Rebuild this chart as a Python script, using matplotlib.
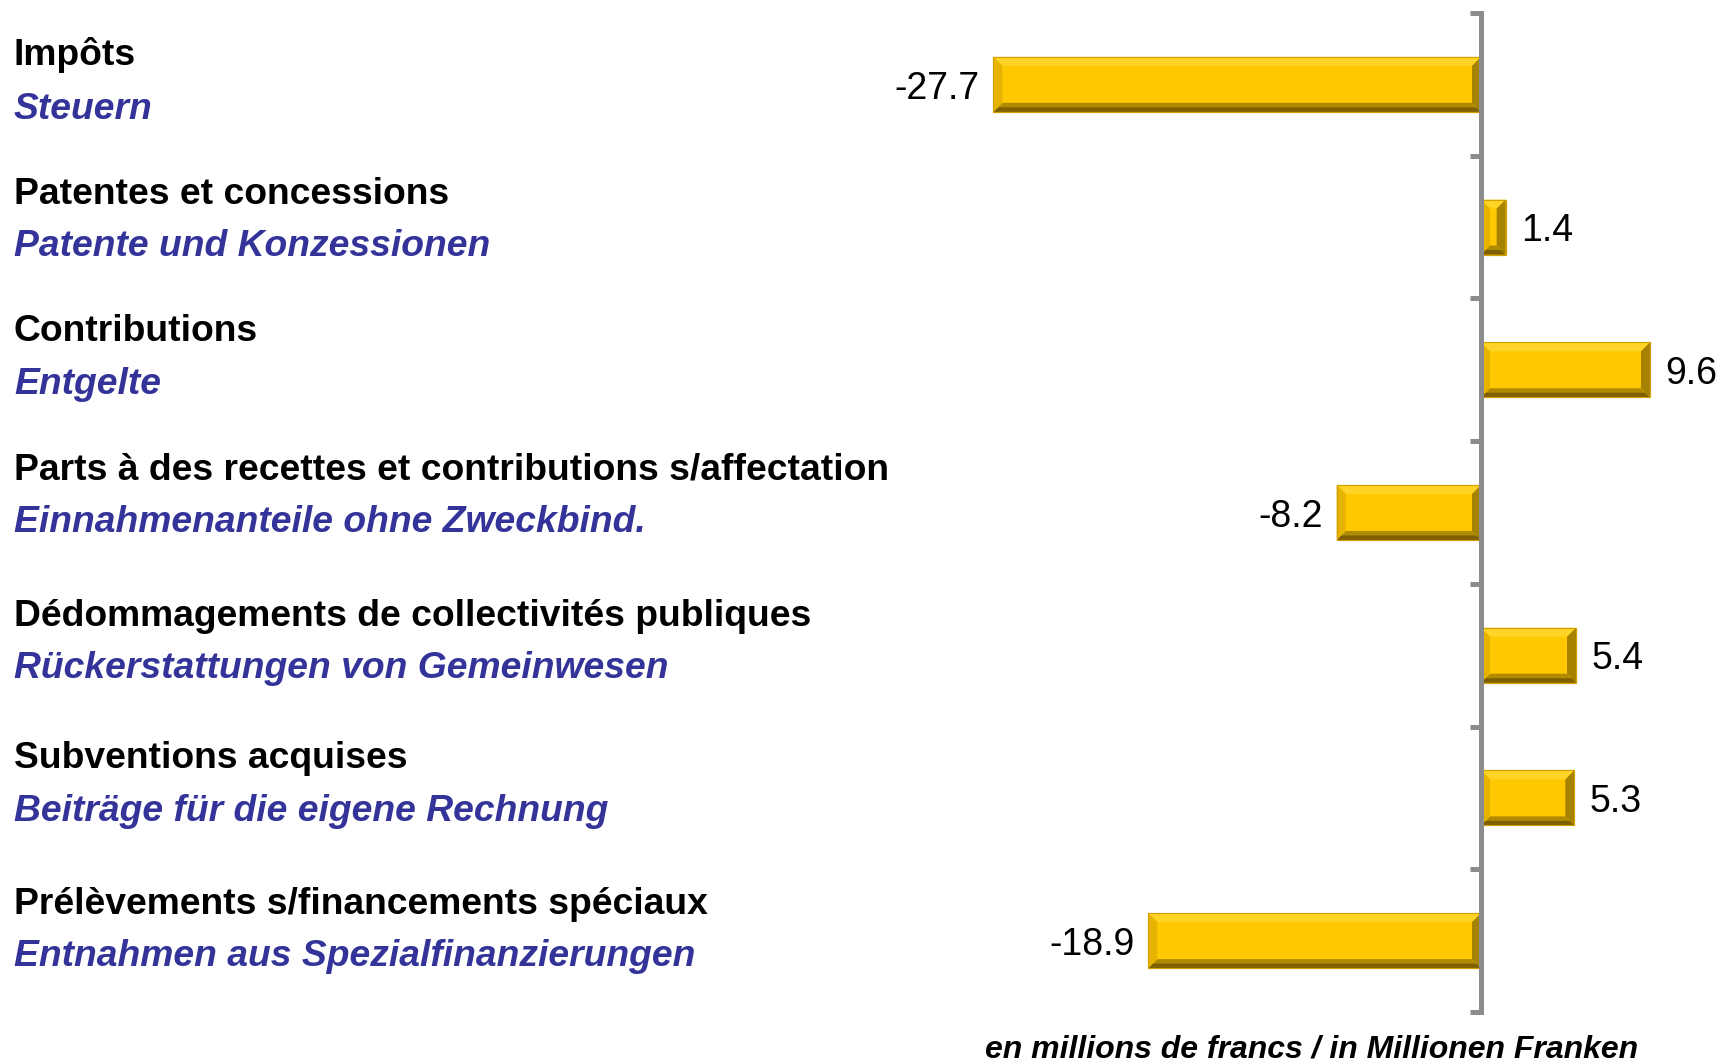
import matplotlib
matplotlib.use("Agg")
import matplotlib.pyplot as plt
import matplotlib.transforms as mtransforms
from matplotlib.patches import Polygon
from matplotlib.transforms import IdentityTransform

plt.rcParams['font.family'] = ['Liberation Sans', 'DejaVu Sans']

labels_fr = ["Impôts", "Patentes et concessions", "Contributions",
             "Parts à des recettes et contributions s/affectation",
             "Dédommagements de collectivités publiques",
             "Subventions acquises",
             "Prélèvements s/financements spéciaux"]
labels_de = ["Steuern", "Patente und Konzessionen", "Entgelte",
             "Einnahmenanteile ohne Zweckbind.",
             "Rückerstattungen von Gemeinwesen",
             "Beiträge für die eigene Rechnung",
             "Entnahmen aus Spezialfinanzierungen"]
values = [-27.7, 1.4, 9.6, -8.2, 5.4, 5.3, -18.9]
unit_note = "en millions de francs / in Millionen Franken"

# layout (label baseline offsets in category units)
fr_dy = [-0.135, -0.165, -0.205, -0.23, -0.205, -0.21, -0.19]
de_dy = [0.245, 0.205, 0.17, 0.14, 0.16, 0.16, 0.18]

W, H = 1721, 1063
fig = plt.figure(figsize=(W / 100, H / 100), dpi=100)
ax_left, ax_right = 960, 1700
ax_top, ax_bot = 13, 1012
ax = fig.add_axes([ax_left / W, 1 - ax_bot / H, (ax_right - ax_left) / W, (ax_bot - ax_top) / H])
ax.patch.set_visible(False)

zero_px = 1481
ppu = 17.6
ax.set_xlim(-(zero_px - ax_left) / ppu, (ax_right - zero_px) / ppu)
n = len(values)
ax.set_ylim(n - 0.5, -0.5)

ypos = list(range(n))
bars = ax.barh(ypos, values, height=0.385, color="#FFC800",
               edgecolor="#D49F00", linewidth=0.8, zorder=1)

for s in ["top", "right", "bottom"]:
    ax.spines[s].set_visible(False)
ax.spines["left"].set_position(("data", 0))
ax.spines["left"].set_color("#8C8C8C")
ax.spines["left"].set_linewidth(3.6)
ax.spines["left"].set_zorder(3)
ax.set_yticks([i - 0.5 for i in range(n + 1)])
ax.set_yticklabels([])
ax.tick_params(axis="y", length=8, width=3.6, color="#8C8C8C", direction="out")
ax.set_xticks([])

# value labels
for y, v in zip(ypos, values):
    if v < 0:
        ax.annotate(f"{v:.1f}", (v, y), xytext=(-10, -3), textcoords="offset points",
                    ha="right", va="center", fontsize=27, color="black")
    else:
        ax.annotate(f"{v:.1f}", (v, y), xytext=(11, -3), textcoords="offset points",
                    ha="left", va="center", fontsize=27, color="black")

# category labels
blend = mtransforms.blended_transform_factory(fig.transFigure, ax.transData)
for y, fr, de, a, b in zip(ypos, labels_fr, labels_de, fr_dy, de_dy):
    fig.text(14 / W, y + a, fr, transform=blend, fontsize=26.8, fontweight="bold",
             color="black", ha="left", va="baseline")
    fig.text(14 / W, y + b, de, transform=blend, fontsize=26.8, fontweight="bold",
             fontstyle="italic", color="#333399", ha="left", va="baseline")

fig.text(1638 / W, 1 - 1058 / H, unit_note, fontsize=23, fontweight="bold",
         fontstyle="italic", color="black", ha="right", va="baseline")

# bevel effect
fig.canvas.draw()
bw = 9
for bar in bars:
    bb = bar.get_window_extent()
    x0, x1, y0, y1 = bb.x0, bb.x1, bb.y0, bb.y1
    b = min(bw, (x1 - x0) / 2.2, (y1 - y0) / 2.2)
    h = b / 2
    faces = [
        ([(x0, y1), (x1, y1), (x1 - b, y1 - b), (x0 + b, y1 - b)], "#FFD426"),  # top
        ([(x0, y0), (x1, y0), (x1 - b, y0 + b), (x0 + b, y0 + b)], "#B08A00"),  # bottom
        ([(x0, y0), (x1, y0), (x1 - h, y0 + h), (x0 + h, y0 + h)], "#7E6000"),  # bottom outer
        ([(x0, y0), (x0, y1), (x0 + b, y1 - b), (x0 + b, y0 + b)], "#E6B400"),  # left
        ([(x1, y0), (x1, y1), (x1 - b, y1 - b), (x1 - b, y0 + b)], "#A68200"),  # right
    ]
    for pts, col in faces:
        ax.add_patch(Polygon(pts, closed=True, facecolor=col, edgecolor="none",
                             transform=IdentityTransform(), clip_on=False, zorder=1.5))
    ax.add_patch(Polygon([(x0, y0), (x1, y0), (x1, y1), (x0, y1)], closed=True,
                         facecolor="none", edgecolor="#D49F00", linewidth=0.8,
                         transform=IdentityTransform(), clip_on=False, zorder=1.6))

fig.savefig("out.png", dpi=100, facecolor="white")
